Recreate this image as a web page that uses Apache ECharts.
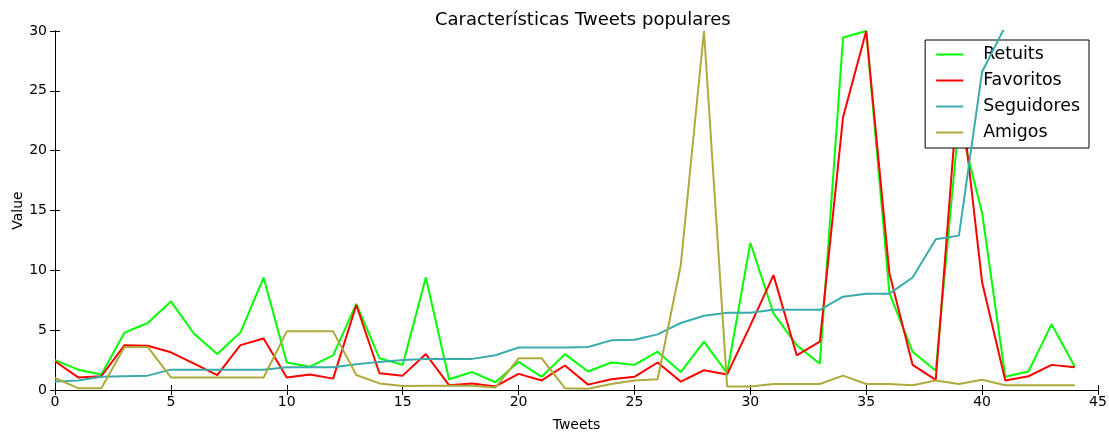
<!DOCTYPE html>
<html>
<head>
<meta charset="utf-8">
<script src="https://cdn.jsdelivr.net/npm/echarts@6/dist/echarts.min.js"></script>
<style>html,body{margin:0;padding:0;background:#fff}#c{width:1109px;height:432px}</style>
</head>
<body>
<div id="c"></div>
<script>
const tweets = Array.from({length:45},(_,i)=>i);
const retuits = [2.5,1.7,1.3,4.8,5.6,7.4,4.7,3.0,4.8,9.4,2.3,1.95,2.9,7.2,2.65,2.1,9.4,0.9,1.5,0.65,2.35,1.1,3.0,1.55,2.3,2.1,3.2,1.5,4.05,1.4,12.3,6.4,3.75,2.2,29.45,30,8.1,3.2,1.6,22.5,14.8,1.1,1.55,5.5,1.95];
const favoritos = [2.4,1.05,1.15,3.75,3.7,3.15,2.2,1.25,3.75,4.3,1.05,1.3,0.95,7.1,1.4,1.2,3.0,0.4,0.55,0.3,1.35,0.8,2.05,0.45,0.9,1.1,2.3,0.7,1.65,1.3,5.4,9.6,2.9,4.05,22.8,30,9.75,2.1,0.85,26,9.0,0.8,1.15,2.1,1.9];
const seguidores = [0.7,0.8,1.1,1.15,1.2,1.7,1.7,1.7,1.7,1.7,1.9,1.9,1.9,2.15,2.35,2.5,2.6,2.6,2.6,2.9,3.55,3.55,3.55,3.6,4.15,4.2,4.65,5.6,6.2,6.45,6.45,6.7,6.7,6.7,7.8,8.05,8.05,9.4,12.6,12.9,26.6,30.4,31,32,33];
const amigos = [1.0,0.15,0.15,3.6,3.6,1.05,1.05,1.05,1.05,1.05,4.9,4.9,4.9,1.25,0.55,0.33,0.35,0.35,0.35,0.2,2.65,2.65,0.15,0.1,0.5,0.8,0.9,10.45,30,0.3,0.3,0.5,0.5,0.5,1.2,0.5,0.5,0.4,0.8,0.5,0.85,0.4,0.4,0.4,0.4];
const seriesNames = ['Retuits','Favoritos','Seguidores','Amigos'];
const colors = ['#00ff00','#ff0000','#3aacac','#aeaa3c'];
const values = [retuits, favoritos, seguidores, amigos];

const font = 'DejaVu Sans';
const chart = echarts.init(document.getElementById('c'), null, {renderer:'canvas'});
const axisCommon = {
  axisLine:{show:true,lineStyle:{color:'#000',width:1}},
  axisTick:{show:true,inside:true,length:5,lineStyle:{color:'#000'}},
  splitLine:{show:false}
};
chart.setOption({
  animation:false,
  backgroundColor:'#fff',
  title:{text:'Características Tweets populares',left:430,top:6,
    textStyle:{fontFamily:font,fontSize:18,fontWeight:'normal',color:'#000'}},
  grid:{left:55,right:11,top:31,bottom:42,containLabel:false,outerBoundsMode:'none'},
  legend:{
    data:seriesNames, orient:'vertical', right:20, top:40,
    icon:'rect', itemWidth:27, itemHeight:2, itemGap:9,
    backgroundColor:'#fff', borderColor:'#000', borderWidth:1, borderRadius:0,
    padding:[6,9,7,11],
    textStyle:{fontFamily:font,fontSize:17.4,color:'#000',lineHeight:17,padding:[0,0,0,15]}
  },
  xAxis:[
    Object.assign({type:'value',min:0,max:45,interval:5,name:'Tweets',nameLocation:'middle',nameGap:28,
      nameMoveOverlap:false,
      nameTextStyle:{fontFamily:font,fontSize:14,color:'#000'},
      axisLabel:{fontFamily:font,fontSize:14,color:'#000',margin:5}},axisCommon),
    Object.assign({type:'value',min:0,max:45,interval:5,position:'top',axisLabel:{show:false}},axisCommon)
  ],
  yAxis:[
    Object.assign({type:'value',min:0,max:30,interval:5,name:'Value',nameLocation:'middle',nameGap:30,
      nameMoveOverlap:false,
      nameTextStyle:{fontFamily:font,fontSize:14,color:'#000'},
      axisLabel:{fontFamily:font,fontSize:14,color:'#000',margin:8}},axisCommon),
    Object.assign({type:'value',min:0,max:30,interval:5,position:'right',axisLabel:{show:false}},axisCommon)
  ],
  series: values.map((arr,k)=>({
    name:seriesNames[k], type:'line', xAxisIndex:0, yAxisIndex:0,
    data: tweets.map((t,i)=>[t,arr[i]]),
    showSymbol:false, symbol:'none', clip:true,
    lineStyle:{color:colors[k],width:2},
    itemStyle:{color:colors[k]},
    z:2+k
  }))
});
</script>
</body>
</html>
